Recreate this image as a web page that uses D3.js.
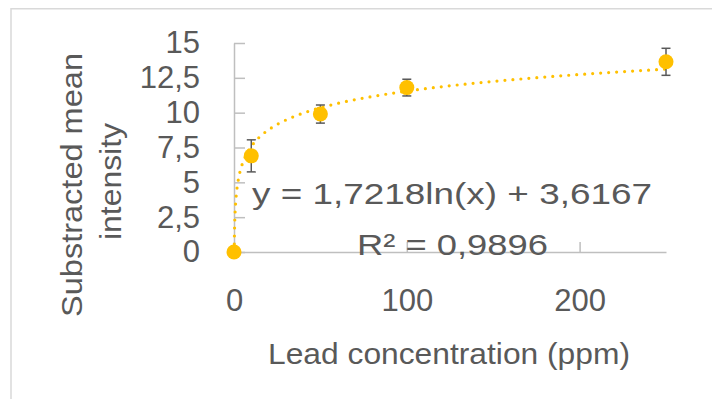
<!DOCTYPE html>
<html>
<head>
<meta charset="utf-8">
<script src="https://cdn.jsdelivr.net/npm/d3@7"></script>
<style>
  body { margin: 0; background: #fff; }
  text { font-family: "Liberation Sans", Arial, sans-serif; fill: #595959; }
</style>
</head>
<body>
<svg id="chart" width="712" height="399"></svg>
<script>
// data
concentration = [0, 10, 50, 100, 250]
intensity = [0, 6.9, 9.9, 11.8, 13.65]
errors = [0, 1.15, 0.65, 0.6, 0.97]

yTicks = [0, 2.5, 5, 7.5, 10, 12.5, 15]
xTicks = [0, 100, 200]

// fitted trend line shown on the chart: y = a ln(x) + b
fitA = 1.7218
fitB = 3.6167
equationLines = ["y = 1,7218ln(x) + 3,6167", "R² = 0,9896"]
yTitleLines = ["Substracted mean", "intensity"]
xTitle = "Lead concentration (ppm)"

var svg = d3.select("#chart")

var margin = {left: 234, right: 46, top: 43, bottom: 147}
var width = 712 - margin.left - margin.right
var height = 399 - margin.top - margin.bottom

// chart area border (cropped on right/bottom)
svg.append("rect")
  .attr("x", 11).attr("y", 8.75)
  .attr("width", 800).attr("height", 500)
  .attr("fill", "none")
  .attr("stroke", "#D9D9D9")
  .attr("stroke-width", 1.5)

var x = d3.scaleLinear().domain([0, 250]).range([0, width])
var y = d3.scaleLinear().domain([0, 15]).range([height, 0])

var g = svg.append("g").attr("transform", "translate(" + margin.left + "," + margin.top + ")")

var comma = d => String(d).replace(".", ",")

var yAxis = g.append("g")
  .call(d3.axisLeft(y).tickValues(yTicks).tickFormat(comma).tickSize(-11).tickSizeOuter(0).tickPadding(34))
var xAxis = g.append("g")
  .attr("transform", "translate(0," + height + ")")
  .call(d3.axisBottom(x).tickValues(xTicks).tickFormat(comma).tickSize(-10).tickSizeOuter(0).tickPadding(37))

;[yAxis, xAxis].forEach(a => {
  a.selectAll("path, line").attr("stroke", "#BFBFBF").attr("stroke-width", 1.5)
  a.selectAll("text").attr("font-size", 31).style("fill", "#595959")
})

// trend line
var x0 = Math.exp(-fitB / fitA)
var trendX = d3.range(0, 121).map(i => x0 * Math.pow(250 / x0, i / 120))
var line = d3.line().x(d => x(d)).y(d => y(fitA * Math.log(d) + fitB))
g.append("path")
  .datum(trendX)
  .attr("d", line)
  .attr("fill", "none")
  .attr("stroke", "#FFC000")
  .attr("stroke-width", 3.2)
  .attr("stroke-linecap", "round")
  .attr("stroke-dasharray", "0 8")

var pts = concentration.map((c, i) => ({c: c, v: intensity[i], e: errors[i]}))

// error bars
var eb = g.append("g").selectAll("g")
  .data(pts.filter(d => d.e > 0))
  .join("g")
  .attr("stroke", "#595959")
  .attr("stroke-width", 1.5)
eb.append("line")
  .attr("x1", d => x(d.c)).attr("x2", d => x(d.c))
  .attr("y1", d => y(d.v - d.e)).attr("y2", d => y(d.v + d.e))
eb.append("line")
  .attr("x1", d => x(d.c) - 4.5).attr("x2", d => x(d.c) + 4.5)
  .attr("y1", d => y(d.v - d.e)).attr("y2", d => y(d.v - d.e))
eb.append("line")
  .attr("x1", d => x(d.c) - 4.5).attr("x2", d => x(d.c) + 4.5)
  .attr("y1", d => y(d.v + d.e)).attr("y2", d => y(d.v + d.e))

g.append("g").selectAll("circle")
  .data(pts)
  .join("circle")
  .attr("cx", d => x(d.c))
  .attr("cy", d => y(d.v))
  .attr("r", 7.5)
  .attr("fill", "#FFC000")

// text helper, stretched to the width seen in the picture
function label(parent, str, px, py, len) {
  return parent.append("text")
    .attr("x", px).attr("y", py)
    .attr("text-anchor", "middle")
    .attr("font-size", 30)
    .attr("textLength", len)
    .attr("lengthAdjust", "spacingAndGlyphs")
    .text(str)
}

// equation label
label(svg, equationLines[0], 452, 204, 400)
label(svg, equationLines[1], 452.5, 255, 191)

// axis titles
label(svg, xTitle, 449, 364, 362)

var yt = svg.append("g").attr("transform", "translate(0,0)")
label(svg, yTitleLines[0], 0, 0, 264).attr("transform", "translate(82,185) rotate(-90)")
label(svg, yTitleLines[1], 0, 0, 117).attr("transform", "translate(121,181.5) rotate(-90)")
</script>
</body>
</html>
